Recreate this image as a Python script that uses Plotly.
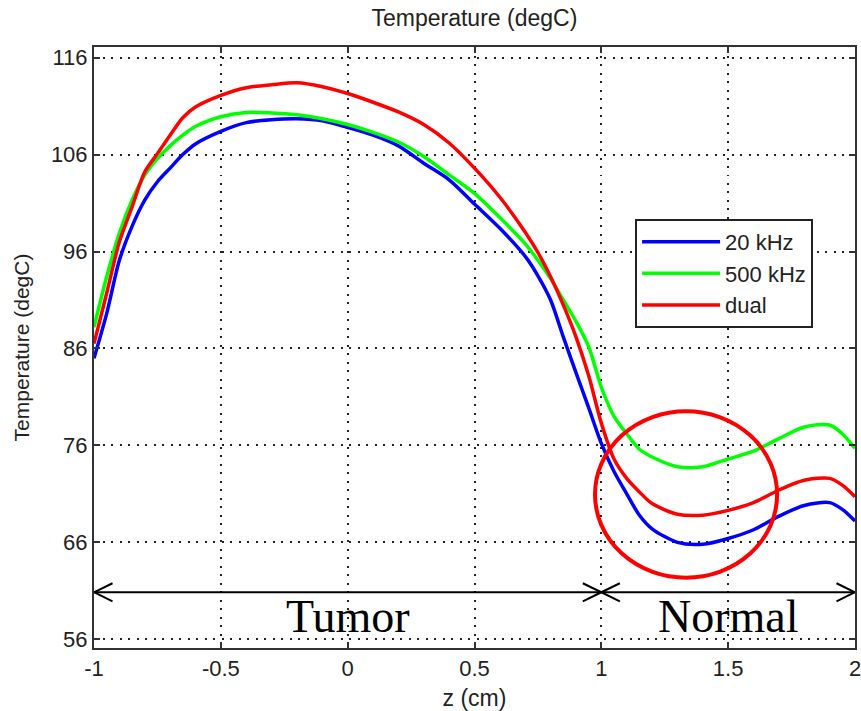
import plotly.graph_objects as go

# ---- data ----
z = [-1, -0.95, -0.9, -0.85, -0.8, -0.75, -0.7, -0.65, -0.6, -0.5, -0.4, -0.3, -0.2, -0.1,
     0, 0.1, 0.2, 0.3, 0.4, 0.5, 0.6, 0.7, 0.75, 0.8, 0.85, 0.9, 0.95, 1.0, 1.05, 1.1,
     1.15, 1.2, 1.3, 1.4, 1.5, 1.6, 1.7, 1.8, 1.9, 1.95, 2.0]

temp_20khz = [85.0, 89.6, 95.1, 98.6, 101.3, 103.2, 104.6, 106.0, 107.1, 108.4, 109.3, 109.6, 109.7, 109.5,
              108.8, 108.0, 106.9, 105.1, 103.4, 100.9, 98.4, 95.5, 93.5, 91.0, 87.2, 83.5, 79.9, 76.2, 73.3, 71.0,
              68.8, 67.4, 66.0, 65.8, 66.4, 67.3, 68.7, 69.8, 70.1, 69.4, 68.2]

temp_500khz = [88.2, 93.4, 97.9, 101.3, 103.9, 105.6, 106.9, 108.0, 108.9, 109.9, 110.35, 110.3, 110.1, 109.7,
               109.1, 108.3, 107.3, 105.8, 103.9, 102.0, 99.5, 96.8, 95.1, 93.2, 91.0, 88.8, 86.2, 82.0, 79.0, 77.2,
               75.6, 74.8, 73.8, 73.8, 74.6, 75.4, 76.7, 77.9, 78.1, 77.2, 75.7]

temp_dual = [86.5, 91.7, 97.0, 100.6, 104.2, 106.1, 108.0, 109.8, 110.9, 112.1, 112.9, 113.2, 113.4, 113.0,
             112.3, 111.4, 110.4, 109.1, 107.2, 104.6, 101.6, 98.0, 95.9, 93.4, 90.5, 87.2, 83.2, 78.3, 74.6, 72.6,
             71.2, 70.0, 68.9, 68.8, 69.3, 70.1, 71.4, 72.4, 72.6, 71.9, 70.7]

series_names = ["20 kHz", "500 kHz", "dual"]
series_colors = ["#0000ff", "#00ff00", "#ff0000"]

x_ticks = [-1, -0.5, 0, 0.5, 1, 1.5, 2]
x_tick_labels = ["-1", "-0.5", "0", "0.5", "1", "1.5", "2"]
y_ticks = [56, 66, 76, 86, 96, 106, 116]

# region annotation (arrows / labels / highlighted circle)
region_labels = ["Tumor", "Normal"]
region_bounds = [(-1, 1), (1, 2)]
arrow_level = 60.85
circle_box = (0.975, 1.693, 62.35, 79.53)

SANS = "Liberation Sans, Arial, sans-serif"
SERIF = "Liberation Serif, Times New Roman, serif"

fig = go.Figure()
for name, ys, col in zip(series_names, [temp_20khz, temp_500khz, temp_dual], series_colors):
    fig.add_trace(go.Scatter(x=z, y=ys, mode="lines", name=name,
                             line=dict(color=col, width=3.5, shape="spline", smoothing=0.8)))

shapes = []
# double-headed arrows with open chevron heads
hx, hy = 0.073, 0.93
for (a, b) in region_bounds:
    shapes.append(dict(type="line", xref="x", yref="y", x0=a, x1=b, y0=arrow_level, y1=arrow_level,
                       line=dict(color="black", width=2)))
    for tip, d in ((a, 1), (b, -1)):
        for s in (1, -1):
            shapes.append(dict(type="line", xref="x", yref="y", x0=tip, y0=arrow_level,
                               x1=tip + d * hx, y1=arrow_level + s * hy,
                               line=dict(color="black", width=2)))
# circle
cx0, cx1, cy0, cy1 = circle_box
shapes.append(dict(type="circle", xref="x", yref="y", x0=cx0, x1=cx1, y0=cy0, y1=cy1,
                   line=dict(color="#ff0000", width=4)))

annotations = []
for lab, (a, b) in zip(region_labels, region_bounds):
    annotations.append(dict(text=lab, x=(a + b) / 2, y=58.35, xref="x", yref="y",
                            showarrow=False, font=dict(family=SERIF, size=46, color="black"),
                            xanchor="center", yanchor="middle"))

axis_common = dict(showline=True, linecolor="#333333", linewidth=2, mirror="ticks",
                   ticks="inside", ticklen=6, tickwidth=2, tickcolor="#333333",
                   showgrid=True, gridcolor="#222222", griddash="2px,6.5px", gridwidth=2,
                   zeroline=False, automargin=False, ticklabeloverflow="allow",
                   tickfont=dict(family=SANS, size=22, color="#222222"))

fig.update_layout(
    width=861, height=711,
    margin=dict(l=94, r=6, t=47, b=63),
    paper_bgcolor="white", plot_bgcolor="white",
    title=dict(text="Temperature (degC)", x=0.551, xanchor="center", y=0.975, yanchor="middle",
               font=dict(family=SANS, size=23, color="#222222")),
    xaxis=dict(range=[-1, 2], tickvals=x_ticks, ticktext=x_tick_labels,
               title=dict(text="z (cm)", font=dict(family=SANS, size=23, color="#222222"), standoff=12),
               **axis_common),
    yaxis=dict(range=[55.1, 117.1], tickvals=y_ticks,
               title=dict(text="Temperature (degC)", font=dict(family=SANS, size=21, color="#222222"), standoff=16),
               **axis_common),
    legend=dict(x=0.711, y=0.714, xanchor="left", yanchor="top",
                bgcolor="white", bordercolor="#222222", borderwidth=2,
                font=dict(family=SANS, size=22, color="#222222"), itemwidth=78,
                tracegroupgap=0),
    shapes=shapes, annotations=annotations,
    showlegend=True,
)

fig.write_html("out.html")
